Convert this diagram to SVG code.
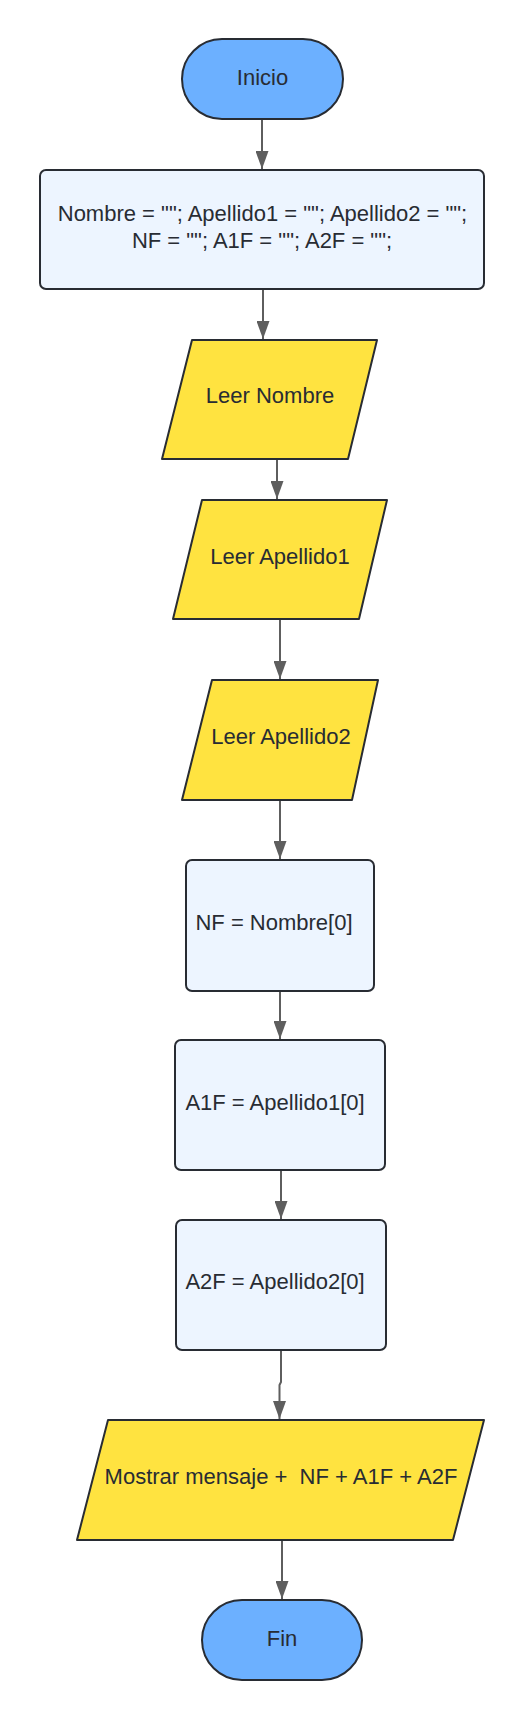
<svg xmlns="http://www.w3.org/2000/svg" width="525" height="1720" viewBox="0 0 525 1720">
  <defs>
    <marker id="arrow" markerUnits="userSpaceOnUse" markerWidth="18" markerHeight="13" viewBox="0 0 18 13" refX="18" refY="6.5" orient="auto">
      <path d="M0,0 L18,6.5 L0,13 z" fill="#5e5e5e"/>
    </marker>
    <style>
      .term { fill: #6cb0ff; stroke: #282c33; stroke-width: 2; }
      .proc { fill: #edf5ff; stroke: #282c33; stroke-width: 2; }
      .io { fill: #ffe340; stroke: #282c33; stroke-width: 2; stroke-linejoin: round; }
      .lbl { font-family: "Liberation Sans", Arial, sans-serif; font-size: 22px; fill: #282c33; text-anchor: middle; }
      .conn { stroke: #5e5e5e; stroke-width: 2; fill: none; marker-end: url(#arrow); }
    </style>
  </defs>
  <rect width="525" height="1720" fill="#ffffff"/>

  <g id="connectors">
    <path class="conn" d="M262,120 L262,169"/>
    <path class="conn" d="M263,290 L263,339"/>
    <path class="conn" d="M277,460 L277,499"/>
    <path class="conn" d="M280,620 L280,679"/>
    <path class="conn" d="M280,801 L280,859"/>
    <path class="conn" d="M280,992 L280,1039"/>
    <path class="conn" d="M281,1171 L281,1219"/>
    <path class="conn" d="M281,1351 L281,1382 L279.5,1385 L279.5,1419"/>
    <path class="conn" d="M282,1541 L282,1599"/>
  </g>

  <g id="inicio">
    <rect class="term" x="182" y="39" width="161" height="80" rx="40" ry="40"/>
    <text class="lbl" x="262.5" y="84.5">Inicio</text>
  </g>

  <g id="init">
    <rect class="proc" x="40" y="170" width="444" height="119" rx="6" ry="6"/>
    <text class="lbl" x="262.5" y="221">Nombre = ""; Apellido1 = ""; Apellido2 = "";</text>
    <text class="lbl" x="262" y="248">NF = ""; A1F = ""; A2F = "";</text>
  </g>

  <g id="leer-nombre">
    <polygon class="io" points="192,340 377,340 348,459 162,459"/>
    <text class="lbl" x="270" y="403">Leer Nombre</text>
  </g>

  <g id="leer-apellido1">
    <polygon class="io" points="202,500 387,500 359,619 173,619"/>
    <text class="lbl" x="280" y="564">Leer Apellido1</text>
  </g>

  <g id="leer-apellido2">
    <polygon class="io" points="212,680 378,680 352,800 182,800"/>
    <text class="lbl" x="281" y="744">Leer Apellido2</text>
  </g>

  <g id="nf">
    <rect class="proc" x="186" y="860" width="188" height="131" rx="6" ry="6"/>
    <text class="lbl" x="274" y="930">NF = Nombre[0]</text>
  </g>

  <g id="a1f">
    <rect class="proc" x="175" y="1040" width="210" height="130" rx="6" ry="6"/>
    <text class="lbl" x="275" y="1110">A1F = Apellido1[0]</text>
  </g>

  <g id="a2f">
    <rect class="proc" x="176" y="1220" width="210" height="130" rx="6" ry="6"/>
    <text class="lbl" x="275" y="1289">A2F = Apellido2[0]</text>
  </g>

  <g id="mostrar">
    <polygon class="io" points="108,1420 484,1420 453,1540 77,1540"/>
    <text class="lbl" x="281" y="1484" xml:space="preserve">Mostrar mensaje +  NF + A1F + A2F</text>
  </g>

  <g id="fin">
    <rect class="term" x="202" y="1600" width="160" height="80" rx="40" ry="40"/>
    <text class="lbl" x="282" y="1645.5">Fin</text>
  </g>
</svg>
